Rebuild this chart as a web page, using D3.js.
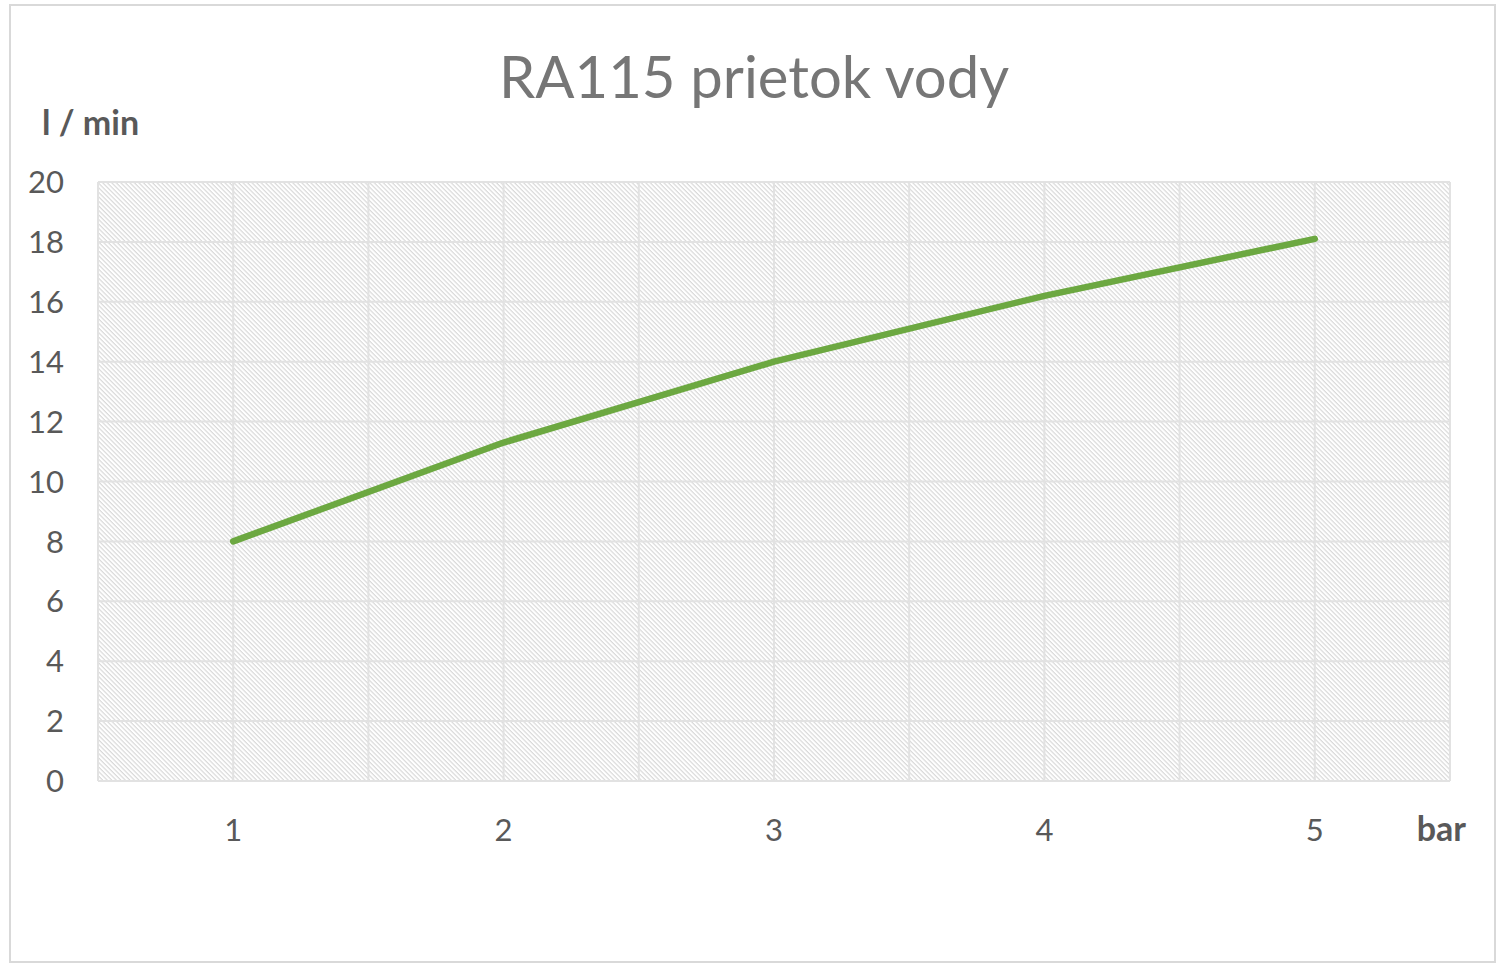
<!DOCTYPE html>
<html>
<head>
<meta charset="utf-8">
<script src="https://cdn.jsdelivr.net/npm/d3@7"></script>
<style>
  body { margin: 0; background: #fff; }
  text { font-family: Lato, "Open Sans", sans-serif; }
</style>
</head>
<body>
<div id="chart"></div>
<script>
// data
const pressures = ["1", "2", "3", "4", "5"];
const flow = [8.0, 11.3, 14.0, 16.2, 18.1];
const yTicks = [0, 2, 4, 6, 8, 10, 12, 14, 16, 18, 20];

const width = 1500, height = 969;
const margin = { top: 182, right: 50, bottom: 188, left: 98 };

const svg = d3.select("#chart").append("svg")
    .attr("width", width)
    .attr("height", height);

// outer frame
svg.append("rect")
    .attr("x", 10).attr("y", 5)
    .attr("width", 1485).attr("height", 957)
    .attr("fill", "#fff")
    .attr("stroke", "#d9d9d9")
    .attr("stroke-width", 2);

// hatch pattern for plot background (wide downward diagonal)
const defs = svg.append("defs");
defs.append("pattern")
    .attr("id", "hatch")
    .attr("patternUnits", "userSpaceOnUse")
    .attr("width", 3.2)
    .attr("height", 3.2)
    .attr("patternTransform", "rotate(-45)")
    .append("line")
    .attr("x1", 1).attr("y1", 0)
    .attr("x2", 1).attr("y2", 3.2)
    .attr("stroke", "#d9d9d9")
    .attr("stroke-width", 1.2);

const x = d3.scaleBand()
    .domain(pressures)
    .range([margin.left, width - margin.right]);

const y = d3.scaleLinear()
    .domain([0, 20])
    .range([height - margin.bottom, margin.top]);

// plot area
svg.append("rect")
    .attr("x", x.range()[0])
    .attr("y", y(20))
    .attr("width", x.range()[1] - x.range()[0])
    .attr("height", y(0) - y(20))
    .attr("fill", "url(#hatch)");

// horizontal gridlines
svg.append("g")
    .selectAll("line")
    .data(yTicks)
    .join("line")
    .attr("x1", x.range()[0])
    .attr("x2", x.range()[1])
    .attr("y1", d => y(d))
    .attr("y2", d => y(d))
    .attr("stroke", "#e2e2e2")
    .attr("stroke-width", 2);

// vertical gridlines: band edges and band centres
const vLines = [];
pressures.forEach(p => {
    vLines.push(x(p));
    vLines.push(x(p) + x.bandwidth() / 2);
});
vLines.push(x.range()[1]);
svg.append("g")
    .selectAll("line")
    .data(vLines)
    .join("line")
    .attr("x1", d => d)
    .attr("x2", d => d)
    .attr("y1", y(20))
    .attr("y2", y(0))
    .attr("stroke", "#e2e2e2")
    .attr("stroke-width", 2);

// y tick labels
svg.append("g")
    .selectAll("text")
    .data(yTicks)
    .join("text")
    .attr("x", 64)
    .attr("y", d => y(d))
    .attr("dy", "0.36em")
    .attr("text-anchor", "end")
    .attr("fill", "#595959")
    .attr("font-size", "31px")
    .text(d => d);

// x tick labels
svg.append("g")
    .selectAll("text")
    .data(pressures)
    .join("text")
    .attr("x", d => x(d) + x.bandwidth() / 2)
    .attr("y", 841)
    .attr("text-anchor", "middle")
    .attr("fill", "#595959")
    .attr("font-size", "31px")
    .text(d => d);

// axis titles
svg.append("text")
    .attr("x", 42)
    .attr("y", 135)
    .attr("fill", "#595959")
    .attr("font-size", "34px")
    .attr("font-weight", "bold")
    .text("l / min");

svg.append("text")
    .attr("x", 1466)
    .attr("y", 841)
    .attr("text-anchor", "end")
    .attr("fill", "#595959")
    .attr("font-size", "34px")
    .attr("font-weight", "bold")
    .text("bar");

// chart title
svg.append("text")
    .attr("x", 754)
    .attr("y", 98)
    .attr("text-anchor", "middle")
    .attr("fill", "#767676")
    .attr("font-size", "58px")
    .text("RA115 prietok vody");

// the line
const line = d3.line()
    .x((d, i) => x(pressures[i]) + x.bandwidth() / 2)
    .y(d => y(d));

svg.append("path")
    .datum(flow)
    .attr("d", line)
    .attr("fill", "none")
    .attr("stroke", "#6ca841")
    .attr("stroke-width", 6.5)
    .attr("stroke-linecap", "round")
    .attr("stroke-linejoin", "round");
</script>
</body>
</html>
